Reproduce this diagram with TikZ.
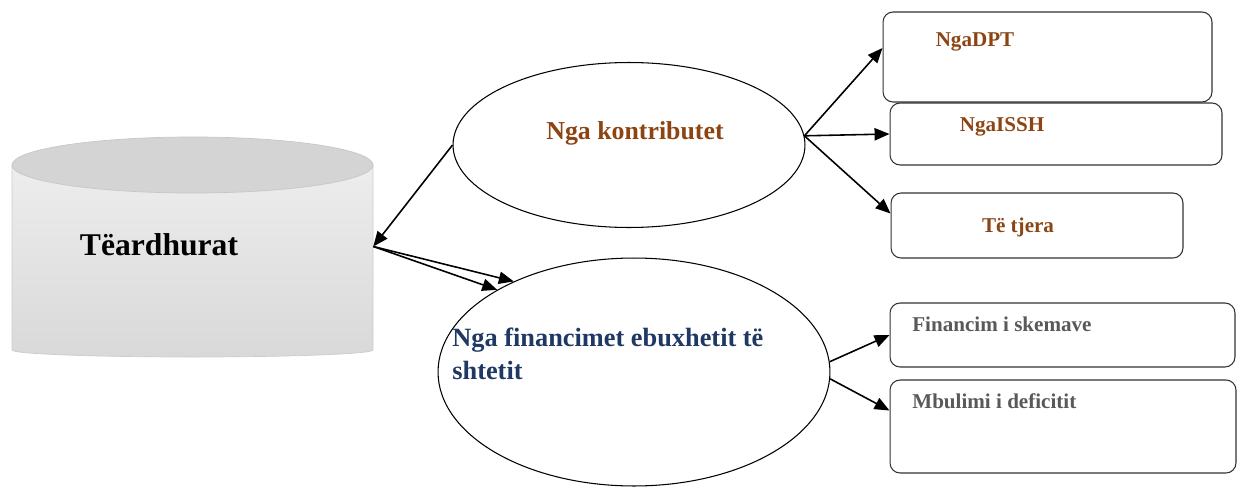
\documentclass[tikz,border=0pt]{standalone}
\usepackage{fontspec}
\setmainfont{Liberation Serif}
\usetikzlibrary{shapes.geometric,arrows.meta}
\definecolor{kbrown}{RGB}{140,68,18}
\definecolor{fblue}{RGB}{31,56,100}
\definecolor{sgray}{RGB}{89,89,89}
\newcommand{\px}[0]{0.02cm}
\newcommand{\bigFont}[0]{\fontsize{18}{22}\selectfont\bfseries}
\newcommand{\boxFont}[0]{\fontsize{12}{14}\selectfont\bfseries}

\begin{document}
\begin{tikzpicture}[x=\px, y=\px]
  \tikzset{oval/.style={ellipse,draw,line width=0.6pt,inner sep=0pt},
           srcbox/.style={rectangle,rounded corners=0.2cm,draw=black!80,line width=0.6pt,inner sep=0pt},
           link/.style={-{Triangle[length=8.5pt,width=7pt]},line width=0.9pt},
           brownlbl/.style={text=kbrown,font=\boxFont,inner sep=0pt},
           graylbl/.style={text=sgray,font=\boxFont,inner sep=0pt,anchor=west}}
  \useasboundingbox (0,0) rectangle (1237,488);
  % revenue cylinder
  \node[minimum width=7.22cm,minimum height=4.4cm,inner sep=0pt] (rev) at (192.5,241.5) {};
  \shade[top color=black!7,bottom color=black!15,draw=black!20]
       (12,323) -- (12,138) arc[start angle=180,end angle=360,x radius=180.5,y radius=7] -- (373,323) -- cycle;
  \filldraw[fill=black!17,draw=black!22] (192.5,323) ellipse[x radius=180.5,y radius=28];
  \node[font=\bigFont,inner sep=0pt] (revtext) at (159,243) {Tëardhurat};
  % the two sources
  \node[oval,minimum width=7.04cm,minimum height=3.3cm] (contrib) at (629,343) {};
  \node[text=kbrown,font=\fontsize{14.7}{17}\selectfont\bfseries,inner sep=0pt] (contribtext) at (635,355) {Nga kontributet};
  \node[oval,minimum width=7.84cm,minimum height=4.56cm] (fin) at (634,116) {};
  \node[text=fblue,font=\fontsize{15}{18.7}\selectfont\bfseries,align=left,anchor=west,inner sep=0pt] (fintext) at (452,134.5)
       {Nga financimet ebuxhetit të\\shtetit};
  % boxes on the right
  \node[srcbox,minimum width=6.58cm,minimum height=1.8cm] (dpt) at (1047.5,431) {};
  \node[brownlbl] (dpttext) at (975,446) {NgaDPT};
  \node[srcbox,minimum width=6.64cm,minimum height=1.24cm] (issh) at (1056,354) {};
  \node[brownlbl] (issttext) at (1002,361) {NgaISSH};
  \node[srcbox,minimum width=5.84cm,minimum height=1.3cm] (other) at (1037,262.5) {};
  \node[brownlbl] (othertext) at (1018,261) {Të tjera};
  \node[srcbox,minimum width=6.9cm,minimum height=1.28cm] (skem) at (1062.5,153) {};
  \node[graylbl] (skemtext) at (912,164) {Financim i skemave};
  \node[srcbox,minimum width=6.92cm,minimum height=1.86cm] (def) at (1063,61.5) {};
  \node[graylbl] (deftext) at (912,87) {Mbulimi i deficitit};

  \draw[link] (contrib.west) -- (rev.east);
  \draw[link] (rev.east) -- (fin.149);
  \draw[link] (rev.east) -- (fin.143);
  \draw[link] (contrib.3) -- ([yshift=0.18cm]dpt.west);
  \draw[link] (contrib.3) -- (issh.west);
  \draw[link] (contrib.3) -- ([yshift=0.24cm]other.west);
  \draw[link] (fin.3) -- (skem.west);
  \draw[link] (fin.-2) -- ([yshift=0.32cm]def.west);
\end{tikzpicture}
\end{document}
